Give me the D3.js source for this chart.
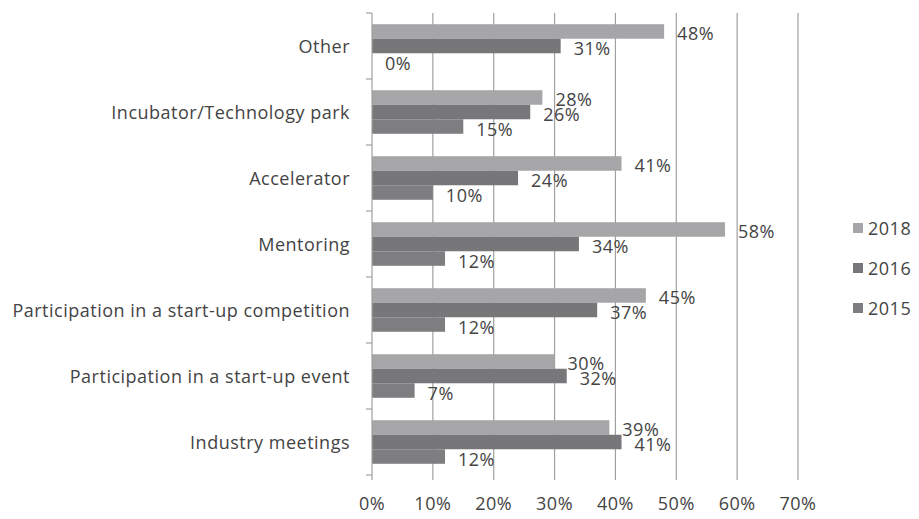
<!DOCTYPE html>
<html>
<head>
<meta charset="utf-8" />
<title>Support used by start-ups</title>
<script type="text/javascript" src="https://d3js.org/d3.v7.min.js"></script>
<style type="text/css">
    body { margin: 0; background: #fff; }
    text { font-family: "Open Sans", Lato, sans-serif; fill: #444; letter-spacing: 0.5px; }
</style>
</head>
<body>
<svg width="919" height="519"></svg>
<script>
    var categories = ["Other", "Incubator/Technology park", "Accelerator", "Mentoring",
        "Participation in a start-up competition", "Participation in a start-up event", "Industry meetings"];
    var years = ["2018", "2016", "2015"];
    var values2018 = [48, 28, 41, 58, 45, 30, 39];
    var values2016 = [31, 26, 24, 34, 37, 32, 41];
    var values2015 = [0, 15, 10, 12, 12, 7, 12];
    var xTicks = [0, 10, 20, 30, 40, 50, 60, 70];

    var colors = {"2018": "#a6a6a8", "2016": "#77777a", "2015": "#7e7e81"};
    var series = {"2018": values2018, "2016": values2016, "2015": values2015};

    var svg = d3.select("svg");
    var plotLeft = 372, plotRight = 798, plotTop = 13, plotBottom = 475;

    var x = d3.scaleLinear().domain([0, 70]).range([plotLeft, plotRight]);
    var y = d3.scaleBand().domain(categories).range([plotTop, plotBottom]).paddingInner(0.34).paddingOuter(0.17);
    var yInner = d3.scaleBand().domain(years).range([0, y.bandwidth()]);

    // vertical gridlines
    svg.append("g").selectAll("line")
        .data(xTicks.slice(1))
        .enter().append("line")
        .attr("x1", d => x(d)).attr("x2", d => x(d))
        .attr("y1", plotTop).attr("y2", plotBottom + 5)
        .attr("stroke", "#a0a0a0").attr("stroke-width", 1.2);

    // bars
    years.forEach(function(yr) {
        var g = svg.append("g");
        g.selectAll("rect")
            .data(series[yr])
            .enter().append("rect")
            .attr("x", x(0))
            .attr("y", (d, i) => y(categories[i]) + yInner(yr))
            .attr("width", d => x(d) - x(0))
            .attr("height", yInner.bandwidth())
            .attr("fill", colors[yr]);
        g.selectAll("text")
            .data(series[yr])
            .enter().append("text")
            .attr("x", d => x(d) + 13)
            .attr("y", (d, i) => y(categories[i]) + yInner(yr) + yInner.bandwidth() / 2 + 2)
            .attr("dominant-baseline", "central")
            .attr("font-size", "18px")
            .text(d => d + "%");
    });

    // category axis line with ticks
    var step = (plotBottom - plotTop) / categories.length;
    var edges = d3.range(categories.length + 1).map(i => plotTop + i * step);
    svg.append("line")
        .attr("x1", plotLeft).attr("x2", plotLeft).attr("y1", plotTop).attr("y2", plotBottom + 5)
        .attr("stroke", "#a0a0a0").attr("stroke-width", 1.2);
    svg.append("g").selectAll("line")
        .data(edges)
        .enter().append("line")
        .attr("x1", plotLeft - 6).attr("x2", plotLeft)
        .attr("y1", d => d).attr("y2", d => d)
        .attr("stroke", "#a0a0a0").attr("stroke-width", 1.2);

    // category labels
    svg.append("g").selectAll("text")
        .data(categories)
        .enter().append("text")
        .attr("x", 350)
        .attr("y", d => y(d) + y.bandwidth() / 2)
        .attr("text-anchor", "end")
        .attr("dominant-baseline", "central")
        .attr("font-size", "18px")
        .text(d => d);

    // x tick labels
    svg.append("g").selectAll("text")
        .data(xTicks)
        .enter().append("text")
        .attr("x", d => x(d))
        .attr("y", 503)
        .attr("text-anchor", "middle")
        .attr("dominant-baseline", "central")
        .attr("font-size", "18px")
        .text(d => d + "%");

    // legend
    var legendY = [228, 268, 308];
    var lg = svg.append("g").selectAll("g")
        .data(years)
        .enter().append("g")
        .attr("transform", (d, i) => "translate(853," + legendY[i] + ")");
    lg.append("rect")
        .attr("x", 0).attr("y", -5).attr("width", 10).attr("height", 10)
        .attr("fill", d => colors[d]);
    lg.append("text")
        .attr("x", 15).attr("y", 0)
        .attr("dominant-baseline", "central")
        .attr("font-size", "18px")
        .text(d => d);
</script>
</body>
</html>
